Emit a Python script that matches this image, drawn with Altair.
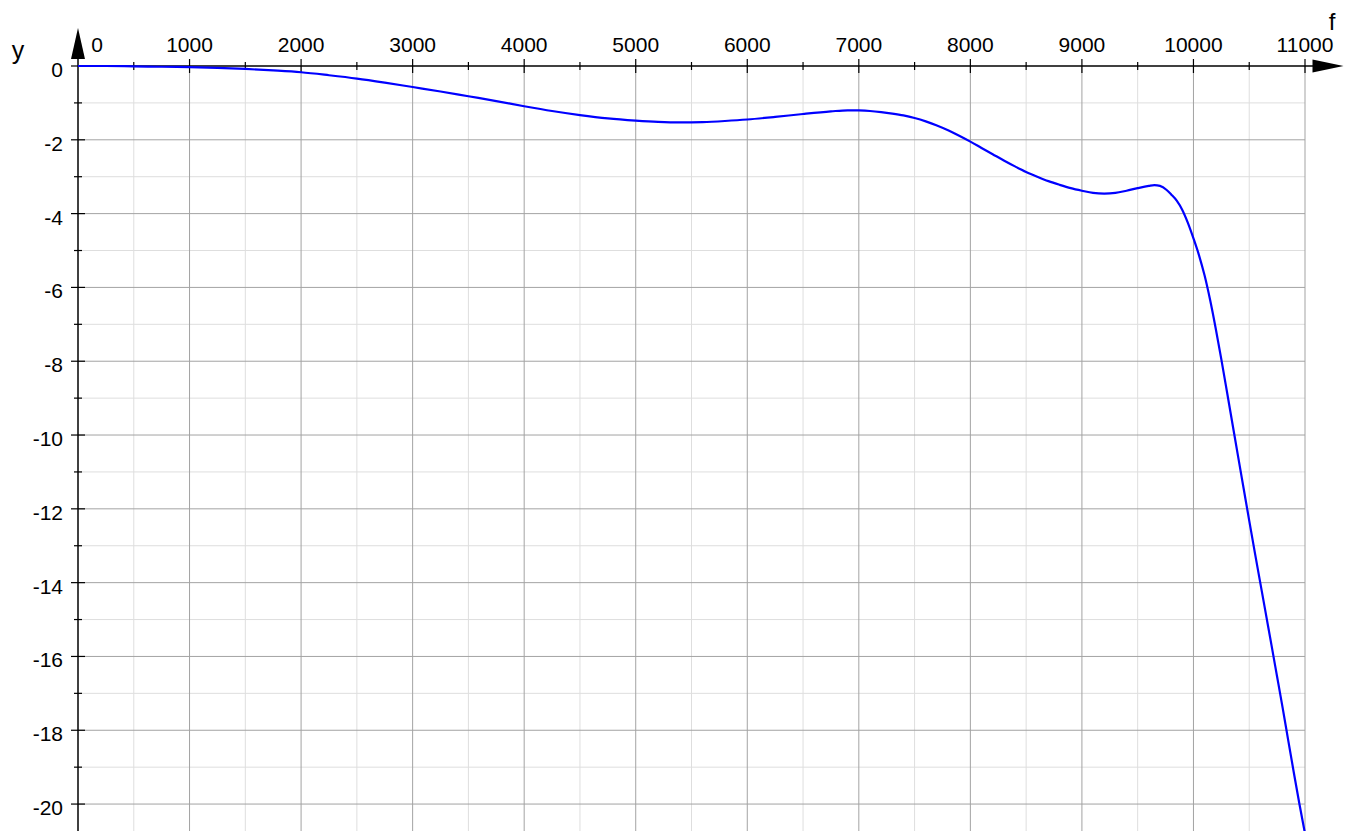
import altair as alt
import pandas as pd

# ---- data ----
f_vals = [0, 250, 500, 750, 1000, 1250, 1500, 1750, 2000, 2250, 2500, 2750, 3000, 3250,
          3500, 3750, 4000, 4250, 4500, 4750, 5000, 5200, 5400, 5600, 5800, 6000, 6250,
          6500, 6750, 6900, 7000, 7100, 7200, 7300, 7400, 7500, 7600, 7700, 7800, 7900,
          8000, 8100, 8200, 8300, 8400, 8500, 8600, 8700, 8800, 8900, 9000, 9100, 9200,
          9300, 9400, 9500, 9600, 9650, 9700, 9760, 9800, 9850, 9900, 9950, 10000, 10050,
          10100, 10150, 10200, 10250, 10300, 10350, 10400, 10450, 10500, 10550, 10600,
          10650, 10700, 10750, 10800, 10850, 10900, 10950, 11000]
y_vals = [0.0, 0.0, -0.01, -0.02, -0.03, -0.05, -0.08, -0.12, -0.17, -0.25, -0.34, -0.45,
          -0.57, -0.69, -0.82, -0.95, -1.09, -1.22, -1.33, -1.42, -1.48, -1.515, -1.53, -1.52,
          -1.49, -1.45, -1.38, -1.30, -1.23, -1.20, -1.205, -1.22, -1.25, -1.29, -1.34, -1.41,
          -1.50, -1.61, -1.74, -1.89, -2.05, -2.22, -2.39, -2.56, -2.72, -2.87, -3.00, -3.12,
          -3.22, -3.31, -3.38, -3.44, -3.46, -3.44, -3.38, -3.31, -3.25, -3.23, -3.25, -3.36,
          -3.48, -3.65, -3.90, -4.25, -4.67, -5.13, -5.68, -6.35, -7.12, -7.95, -8.82, -9.70,
          -10.58, -11.45, -12.32, -13.18, -14.02, -14.86, -15.70, -16.55, -17.40, -18.28,
          -19.15, -20.00, -20.80]

x_major = [1000, 2000, 3000, 4000, 5000, 6000, 7000, 8000, 9000, 10000, 11000]
x_minor = [500, 1500, 2500, 3500, 4500, 5500, 6500, 7500, 8500, 9500, 10500]
x_labels = ["0", "1000", "2000", "3000", "4000", "5000", "6000", "7000", "8000", "9000",
            "10000", "11000"]
x_label_vals = [0, 1000, 2000, 3000, 4000, 5000, 6000, 7000, 8000, 9000, 10000, 11000]
y_major = [-2, -4, -6, -8, -10, -12, -14, -16, -18, -20]
y_minor = [-1, -3, -5, -7, -9, -11, -13, -15, -17, -19]
y_label_vals = [0, -2, -4, -6, -8, -10, -12, -14, -16, -18, -20]
y_labels = ["0", "-2", "-4", "-6", "-8", "-10", "-12", "-14", "-16", "-18", "-20"]

X_DOMAIN = [0, 11000]
Y_DOMAIN = [-20.73, 0]
W, H = 1227, 765
FONT = "Liberation Sans"
MAJOR = "#a3a3a3"
MINOR = "#dedede"

xs = alt.Scale(domain=X_DOMAIN, nice=False, zero=False)
ys = alt.Scale(domain=Y_DOMAIN, nice=False, zero=False)


def X(field):
    return alt.X(f"{field}:Q", scale=xs, axis=None)


def Y(field):
    return alt.Y(f"{field}:Q", scale=ys, axis=None)


curve_df = pd.DataFrame({"f": f_vals, "y": y_vals})
xmaj_df = pd.DataFrame({"v": x_major})
xmin_df = pd.DataFrame({"v": x_minor})
ymaj_df = pd.DataFrame({"v": y_major})
ymin_df = pd.DataFrame({"v": y_minor})
xlab_df = pd.DataFrame({"v": x_label_vals, "t": x_labels})
ylab_df = pd.DataFrame({"v": y_label_vals, "t": y_labels})

grid_vmin = alt.Chart(xmin_df).mark_rule(color=MINOR, strokeWidth=1).encode(x=X("v"))
grid_hmin = alt.Chart(ymin_df).mark_rule(color=MINOR, strokeWidth=1).encode(y=Y("v"))
grid_vmaj = alt.Chart(xmaj_df).mark_rule(color=MAJOR, strokeWidth=1).encode(x=X("v"))
grid_hmaj = alt.Chart(ymaj_df).mark_rule(color=MAJOR, strokeWidth=1).encode(y=Y("v"))

# axis lines
x_axis = alt.Chart(pd.DataFrame({"a": [0]})).mark_rule(color="black", strokeWidth=1.5).encode(
    x=alt.value(0), x2=alt.value(W + 20), y=alt.value(0))
y_axis = alt.Chart(pd.DataFrame({"a": [0]})).mark_rule(color="black", strokeWidth=1.5).encode(
    x=alt.value(0), y=alt.value(-12), y2=alt.value(H))

# ticks crossing the axes
xt_maj = alt.Chart(xmaj_df).mark_rule(color="black", strokeWidth=1.2).encode(
    x=X("v"), y=alt.value(-7), y2=alt.value(7))
xt_min = alt.Chart(xmin_df).mark_rule(color="black", strokeWidth=1.2).encode(
    x=X("v"), y=alt.value(-4), y2=alt.value(4))
yt_maj = alt.Chart(ymaj_df).mark_rule(color="black", strokeWidth=1.2).encode(
    y=Y("v"), x=alt.value(-7), x2=alt.value(7))
yt_min = alt.Chart(ymin_df).mark_rule(color="black", strokeWidth=1.2).encode(
    y=Y("v"), x=alt.value(-4), x2=alt.value(4))
yt_zero = alt.Chart(pd.DataFrame({"v": [0]})).mark_rule(color="black", strokeWidth=1.2).encode(
    y=Y("v"), x=alt.value(-7), x2=alt.value(0))

# arrow heads
arrow_up = alt.Chart(pd.DataFrame({"a": [0]})).mark_point(
    shape="M 0 -1 L 0.45 1 L -0.45 1 Z", size=961, filled=True, opacity=1,
    color="black", strokeWidth=0).encode(x=alt.value(0), y=alt.value(-22.5))
arrow_right = alt.Chart(pd.DataFrame({"a": [0]})).mark_point(
    shape="M 1 0 L -1 0.42 L -1 -0.42 Z", size=961, filled=True, opacity=1,
    color="black", strokeWidth=0).encode(x=alt.value(W + 23), y=alt.value(0))

# labels
xlab = alt.Chart(xlab_df).transform_filter("datum.v != 0").mark_text(
    font=FONT, fontSize=21, align="center", baseline="alphabetic", color="black").encode(
    x=X("v"), y=alt.value(-14), text="t:N")
xlab0 = alt.Chart(xlab_df).transform_filter("datum.v == 0").mark_text(
    font=FONT, fontSize=21, align="center", baseline="alphabetic", color="black", dx=19).encode(
    x=X("v"), y=alt.value(-14), text="t:N")
ylab = alt.Chart(ylab_df).mark_text(
    font=FONT, fontSize=21, align="right", baseline="alphabetic", color="black", dy=11).encode(
    y=Y("v"), x=alt.value(-15), text="t:N")

f_title = alt.Chart(pd.DataFrame({"t": ["f"]})).mark_text(
    font=FONT, fontSize=24, align="center", baseline="alphabetic", color="black").encode(
    x=alt.value(W + 27), y=alt.value(-36), text="t:N")
y_title = alt.Chart(pd.DataFrame({"t": ["y"]})).mark_text(
    font=FONT, fontSize=25, align="center", baseline="alphabetic", color="black").encode(
    x=alt.value(-60), y=alt.value(-7), text="t:N")

curve = alt.Chart(curve_df).mark_line(color="#0000ff", strokeWidth=2.2,
                                      interpolate="monotone").encode(x=X("f"), y=Y("y"))

chart = alt.layer(
    grid_vmin, grid_hmin, grid_vmaj, grid_hmaj,
    x_axis, y_axis, xt_maj, xt_min, yt_maj, yt_min, yt_zero,
    arrow_up, arrow_right, xlab, xlab0, ylab, f_title, y_title, curve
).properties(
    width=W, height=H,
    autosize=alt.AutoSizeParams(type="none"),
    padding={"left": 70, "top": 58, "right": 39, "bottom": 0},
    background="white"
).configure_view(stroke=None)

chart.save("out.html", embed_options={"renderer": "svg", "actions": False})
